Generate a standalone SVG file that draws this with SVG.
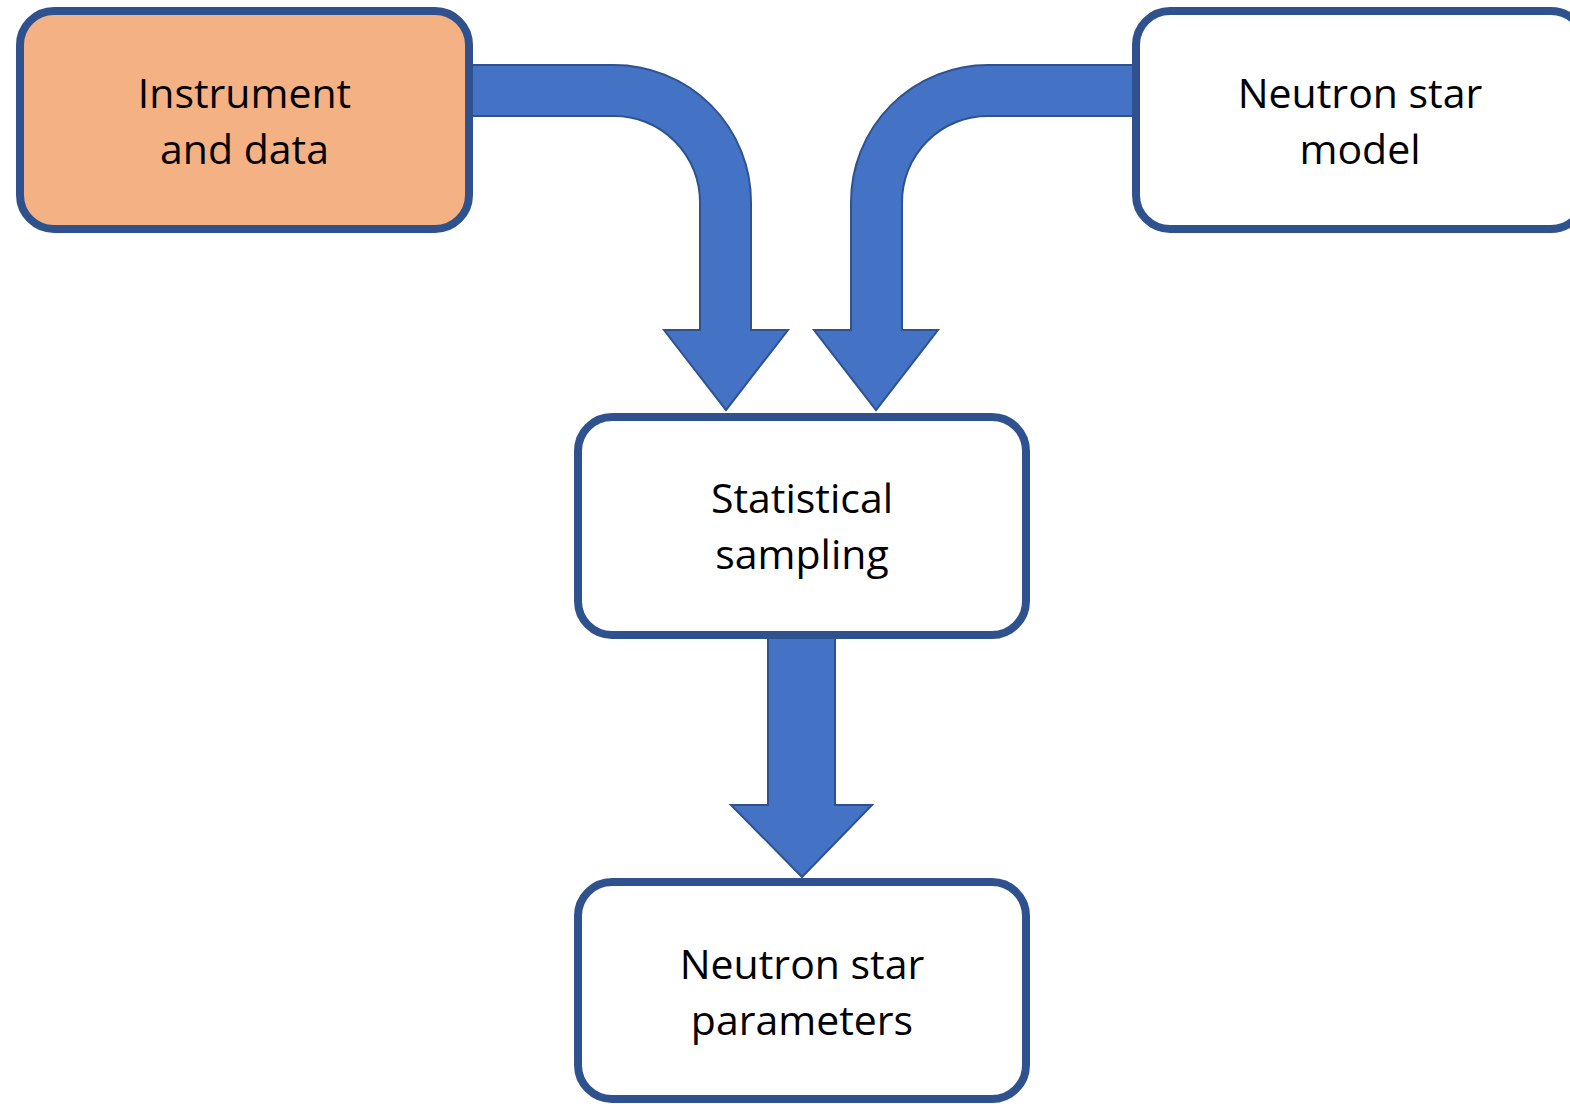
<svg xmlns="http://www.w3.org/2000/svg" width="1570" height="1104" viewBox="0 0 1570 1104">
  <style>
    .box { fill: #FFFFFF; stroke: #2F528F; stroke-width: 8; }
    .orange { fill: #F4B183; }
    .arrow { fill: #4472C4; stroke: #2F528F; stroke-width: 2; stroke-linejoin: miter; }
    .label { font-family: "Open Sans", "Noto Sans", sans-serif; font-size: 41px; fill: #000000; text-anchor: middle; }
  </style>
  <rect width="1570" height="1104" fill="#FFFFFF"/>
  <g id="connectors">
    <path class="arrow" d="M 469 65 L 614 65 A 137 137 0 0 1 751 202 L 751 330 L 788 330 L 726 410 L 664 330 L 700 330 L 700 202 A 86 86 0 0 0 614 116 L 469 116 Z"/>
    <path class="arrow" d="M 1136 65 L 988 65 A 137 137 0 0 0 851 202 L 851 330 L 814 330 L 876 410 L 938 330 L 902 330 L 902 202 A 86 86 0 0 1 988 116 L 1136 116 Z"/>
    <path class="arrow" d="M 768 635 L 835 635 L 835 805 L 872 805 L 802 877 L 731 805 L 768 805 Z"/>
  </g>
  <g id="node-instrument">
    <rect class="box orange" x="20" y="11" width="449" height="218" rx="34" ry="34"/>
    <text class="label" x="244.5" y="108">Instrument</text>
    <text class="label" x="244.5" y="164">and data</text>
  </g>
  <g id="node-model">
    <rect class="box" x="1136" y="11" width="449" height="218" rx="34" ry="34"/>
    <text class="label" x="1360" y="108">Neutron star</text>
    <text class="label" x="1360" y="164">model</text>
  </g>
  <g id="node-sampling">
    <rect class="box" x="578" y="417" width="448" height="218" rx="34" ry="34"/>
    <text class="label" x="802" y="513">Statistical</text>
    <text class="label" x="802" y="569">sampling</text>
  </g>
  <g id="node-parameters">
    <rect class="box" x="578" y="882" width="448" height="217" rx="34" ry="34"/>
    <text class="label" x="802" y="979">Neutron star</text>
    <text class="label" x="802" y="1035">parameters</text>
  </g>
</svg>
